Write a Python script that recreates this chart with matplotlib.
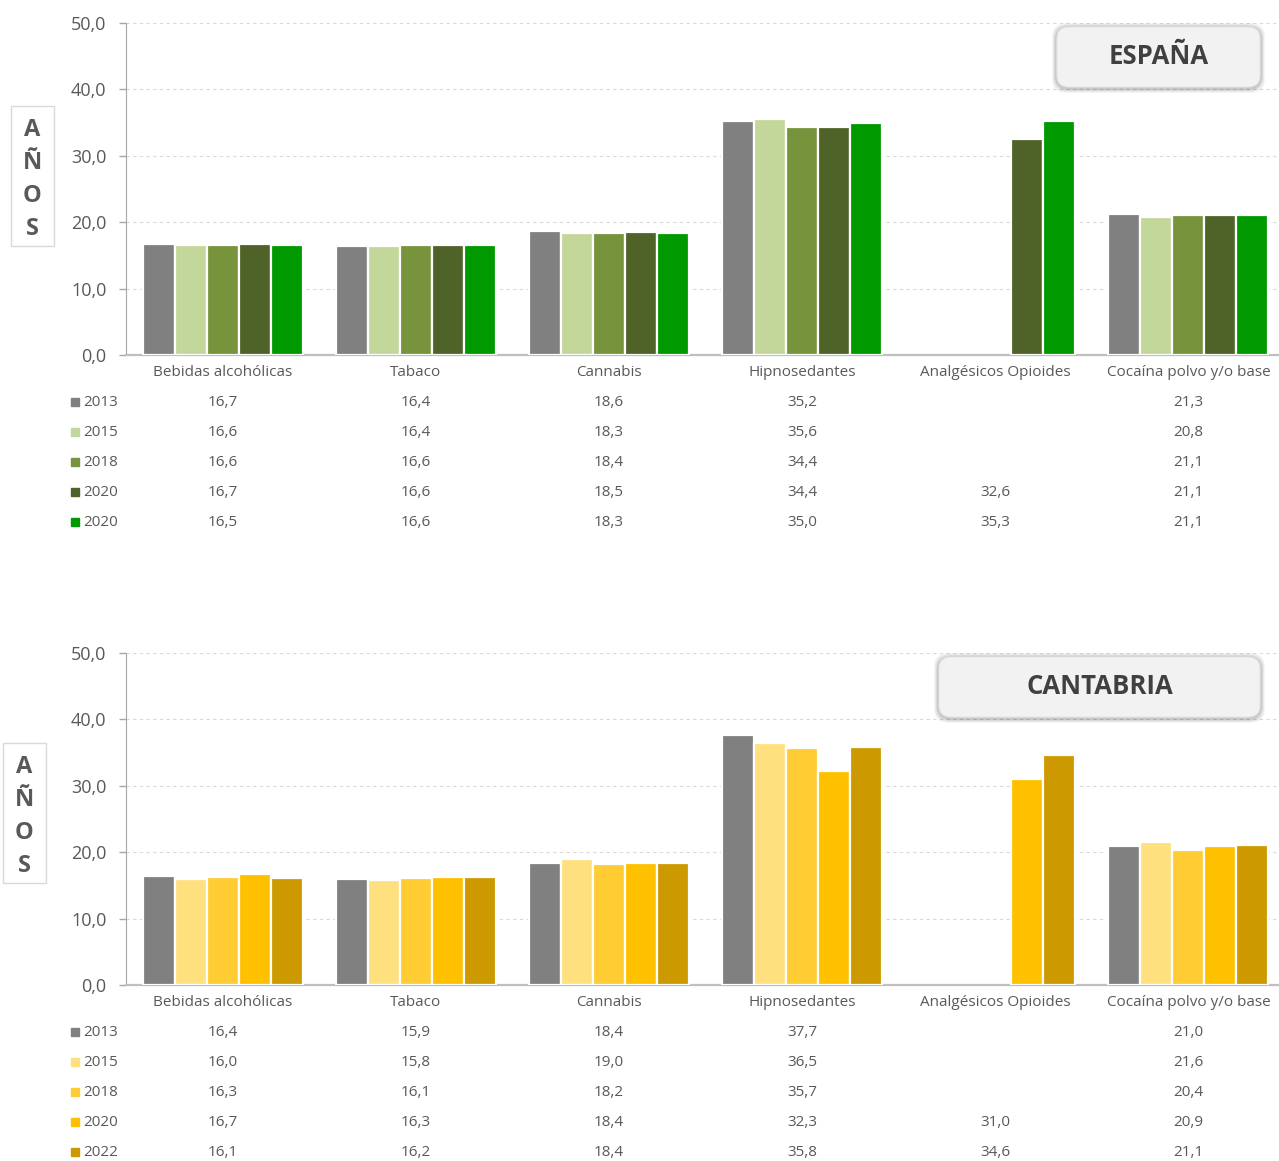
import numpy as np
import matplotlib
matplotlib.use("Agg")
import matplotlib.pyplot as plt
from matplotlib.patches import FancyBboxPatch, Rectangle
from matplotlib.transforms import blended_transform_factory

plt.rcParams['font.family'] = ['Open Sans', 'DejaVu Sans']

categories = ["Bebidas alcohólicas", "Tabaco", "Cannabis", "Hipnosedantes",
              "Analgésicos Opioides", "Cocaína polvo y/o base"]
yticks = [0, 10, 20, 30, 40, 50]

# España
esp_years = ["2013", "2015", "2018", "2020", "2020"]
esp_2013 = [16.7, 16.4, 18.6, 35.2, np.nan, 21.3]
esp_2015 = [16.6, 16.4, 18.3, 35.6, np.nan, 20.8]
esp_2018 = [16.6, 16.6, 18.4, 34.4, np.nan, 21.1]
esp_2020 = [16.7, 16.6, 18.5, 34.4, 32.6, 21.1]
esp_2020b = [16.5, 16.6, 18.3, 35.0, 35.3, 21.1]
esp_colors = ["#808080", "#C4D79B", "#77933C", "#4F6228", "#009900"]

# Cantabria
can_years = ["2013", "2015", "2018", "2020", "2022"]
can_2013 = [16.4, 15.9, 18.4, 37.7, np.nan, 21.0]
can_2015 = [16.0, 15.8, 19.0, 36.5, np.nan, 21.6]
can_2018 = [16.3, 16.1, 18.2, 35.7, np.nan, 20.4]
can_2020 = [16.7, 16.3, 18.4, 32.3, 31.0, 20.9]
can_2022 = [16.1, 16.2, 18.4, 35.8, 34.6, 21.1]
can_colors = ["#808080", "#FFE07F", "#FFCC33", "#FFC000", "#CC9900"]

W, H = 1279, 1161
fig = plt.figure(figsize=(W / 100, H / 100), dpi=100)

TXT = "#595959"


def fmt(v):
    return ("%.1f" % v).replace(".", ",")


def panel(top_px, series, years, colors, title, tbox, ybox):
    ax_left = 126
    ax_w = 1159
    ax_h = 332
    ax = fig.add_axes([ax_left / W, 1 - (top_px + ax_h) / H,
                       ax_w / W, ax_h / H])
    n = len(series)
    x = np.arange(len(categories))
    bw = 0.1656
    for i, (vals, c) in enumerate(zip(series, colors)):
        off = (i - (n - 1) / 2) * bw
        ax.bar(x + off, vals, width=bw, color=c, edgecolor="white",
               linewidth=1.6, zorder=3)
    ax.set_xlim(-0.5, len(categories) - 0.5)
    ax.set_ylim(0, 50)
    ax.set_yticks(yticks)
    ax.set_yticklabels([fmt(v) for v in yticks], fontsize=13, color=TXT)
    ax.yaxis.grid(True, linestyle=(0, (3, 3)), color="#D9D9D9", linewidth=0.8, zorder=0)
    ax.set_xticks(x)
    ax.set_xticklabels(categories, fontsize=11, color=TXT)
    ax.tick_params(axis="x", length=0, pad=7)
    ax.tick_params(axis="y", length=5, color="#A6A6A6", width=1, pad=9)
    for s in ["top", "right"]:
        ax.spines[s].set_visible(False)
    ax.spines["left"].set_color("#A6A6A6")
    ax.spines["bottom"].set_color("#BFBFBF")
    ax.spines["bottom"].set_linewidth(1.6)

    # data table
    trans = blended_transform_factory(ax.transData, ax.transAxes)
    for r, (vals, c, yr) in enumerate(zip(series, colors, years)):
        yy = -(48 + 30 * r) / ax_h
        ax.plot([-0.764], [yy + 0.003], marker="s", markersize=5.5, color=c,
                transform=trans, clip_on=False, linestyle="none")
        ax.text(-0.72, yy, yr, transform=trans, fontsize=11, color=TXT,
                ha="left", va="center")
        for j, v in enumerate(vals):
            if not np.isnan(v):
                ax.text(j, yy, fmt(v), transform=trans, fontsize=11, color=TXT,
                        ha="center", va="center")

    # title box with soft shadow
    x0, y0, x1, y1 = tbox
    for d, a in [(5, 0.04), (4, 0.05), (3, 0.06), (2, 0.08)]:
        sh = FancyBboxPatch(((x0 - d) / W, 1 - (y1 + d + 1) / H),
                            (x1 - x0 + 2 * d) / W, (y1 - y0 + 2 * d) / H,
                            boxstyle="round,pad=0,rounding_size=0.012",
                            transform=fig.transFigure, facecolor="black",
                            edgecolor="none", alpha=a, zorder=9)
        fig.add_artist(sh)
    box = FancyBboxPatch((x0 / W, 1 - y1 / H), (x1 - x0) / W, (y1 - y0) / H,
                         boxstyle="round,pad=0,rounding_size=0.01",
                         transform=fig.transFigure, facecolor="#F2F2F2",
                         edgecolor="#E6E6E6", linewidth=0.8, zorder=10)
    fig.add_artist(box)
    fig.text((x0 + x1) / 2 / W, 1 - (y0 + y1) / 2 / H, title, fontsize=18.5,
             fontweight="bold", color="#404040", ha="center", va="center", zorder=11)

    # vertical "AÑOS" box
    bx0, by0, bx1, by1 = ybox
    fig.add_artist(Rectangle((bx0 / W, 1 - by1 / H), (bx1 - bx0) / W, (by1 - by0) / H,
                             transform=fig.transFigure, facecolor="white",
                             edgecolor="#D9D9D9", linewidth=1))
    for k, ch in enumerate("AÑOS"):
        fig.text((bx0 + bx1) / 2 / W, 1 - (by0 + 24 + 33 * k) / H, ch, fontsize=17,
                 fontweight="bold", color=TXT, ha="center", va="center")
    return ax


panel(23, [esp_2013, esp_2015, esp_2018, esp_2020, esp_2020b], esp_years,
      esp_colors, "ESPAÑA", (1057, 27, 1260, 87), (11, 106, 54, 246))
panel(653, [can_2013, can_2015, can_2018, can_2020, can_2022], can_years,
      can_colors, "CANTABRIA", (939, 657, 1260, 717), (3, 743, 46, 883))

fig.savefig("out.png", dpi=100)
